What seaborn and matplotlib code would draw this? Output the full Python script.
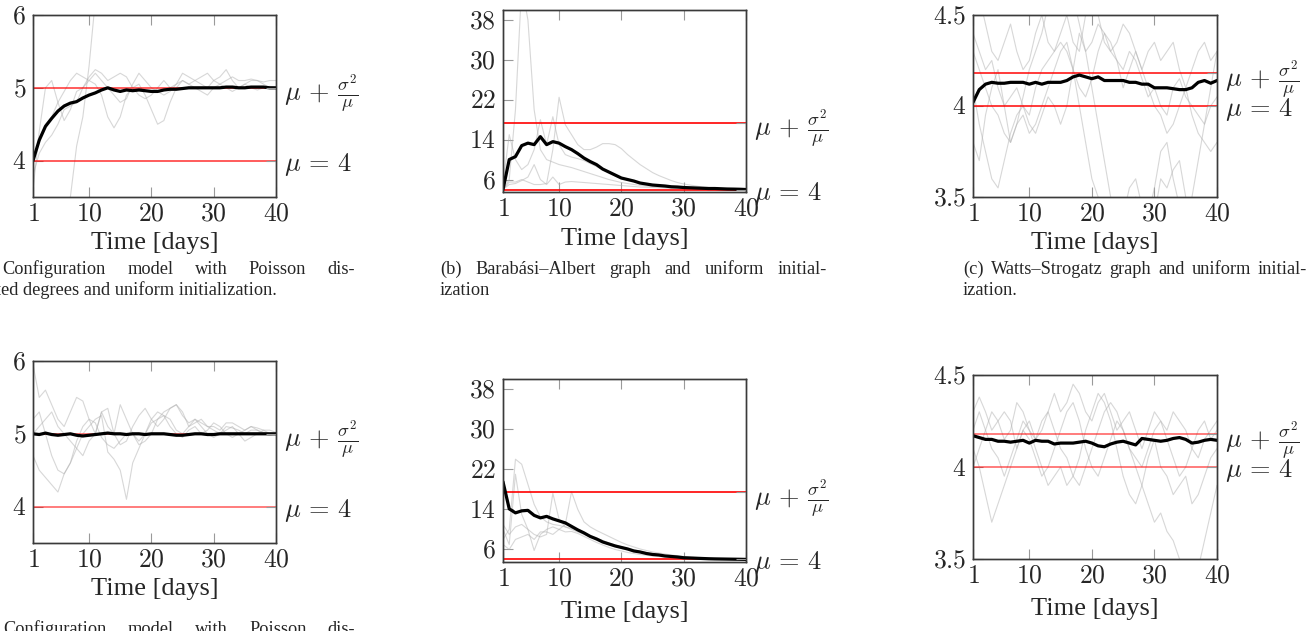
import numpy as np
import pandas as pd
import matplotlib
matplotlib.use("Agg")
import matplotlib.pyplot as plt
import matplotlib.transforms as mtransforms
import seaborn as sns

# ---------------- data ----------------
days = list(range(1, 41))
x_ticks = [1, 10, 20, 30, 40]

# (a) configuration model, uniform init
a1_mean = [4.00, 4.28, 4.47, 4.58, 4.68, 4.75, 4.79, 4.81, 4.86, 4.90, 4.93, 4.97, 5.00, 4.97, 4.95, 4.97, 4.96, 4.97, 4.96, 4.95,
           4.95, 4.97, 4.98, 4.98, 4.99, 5.00, 5.00, 5.00, 5.00, 5.00, 5.00, 5.01, 5.01, 5.00, 5.00, 5.01, 5.01, 5.01, 5.00, 5.00]
a1_runs = [
    [3.0, 3.1, 3.2, 3.3, 3.35, 3.4, 3.5, 4.2, 4.6, 5.3, 6.2, 6.8, 7.0, 7.0, 7.0, 7.0, 7.0, 7.0, 7.0, 7.0,
     7.0, 7.0, 7.0, 7.0, 7.0, 7.0, 7.0, 7.0, 7.0, 7.0, 7.0, 7.0, 7.0, 7.0, 7.0, 7.0, 7.0, 7.0, 7.0, 7.0],
    [3.6, 4.4, 5.0, 5.1, 4.8, 4.55, 4.7, 4.95, 5.0, 5.1, 5.05, 4.9, 4.6, 4.45, 4.6, 4.9, 5.0, 5.05, 4.9, 4.7,
     4.5, 4.55, 4.8, 5.0, 5.1, 5.05, 5.0, 4.95, 4.9, 5.0, 5.05, 5.0, 4.95, 5.0, 5.05, 5.0, 4.97, 5.0, 5.02, 5.0],
    [4.0, 4.3, 4.5, 4.6, 4.8, 4.95, 5.1, 5.2, 5.15, 5.1, 5.2, 5.1, 5.0, 4.9, 4.8, 4.85, 5.05, 5.2, 5.1, 5.0,
     4.95, 4.9, 4.95, 5.05, 5.1, 5.05, 5.1, 5.15, 5.2, 5.1, 5.05, 5.1, 5.15, 5.1, 5.1, 5.12, 5.1, 5.08, 5.1, 5.1],
    [3.8, 4.1, 4.25, 4.35, 4.5, 4.7, 4.75, 4.8, 5.0, 5.15, 5.25, 5.2, 5.1, 5.15, 5.2, 5.15, 5.0, 4.9, 4.85, 4.9,
     5.0, 5.1, 5.0, 5.05, 5.2, 5.15, 5.1, 5.05, 5.0, 5.1, 5.15, 5.25, 5.1, 5.0, 5.05, 5.1, 5.1, 5.05, 5.0, 5.0],
]

# (b) Barabasi-Albert, uniform init
b1_mean = [4.0, 10.0, 10.6, 12.8, 13.3, 13.0, 14.6, 13.0, 13.6, 13.3, 12.6, 12.0, 11.2, 10.3, 9.6, 9.0, 8.1, 7.5, 6.9, 6.3,
           6.0, 5.7, 5.3, 5.1, 4.9, 4.8, 4.7, 4.55, 4.5, 4.4, 4.35, 4.3, 4.25, 4.2, 4.2, 4.15, 4.1, 4.08, 4.05, 4.0]
b1_runs = [
    [4.0, 6.0, 20.0, 45.0, 38.0, 20.0, 12.0, 10.0, 9.5, 9.0, 8.7, 8.4, 8.0, 7.6, 7.2, 6.8, 6.4, 6.0, 5.7, 5.4,
     5.2, 5.0, 4.85, 4.7, 4.6, 4.5, 4.4, 4.35, 4.3, 4.25, 4.2, 4.15, 4.12, 4.1, 4.08, 4.06, 4.04, 4.03, 4.02, 4.0],
    [5.0, 15.0, 10.0, 8.0, 9.0, 12.0, 18.0, 13.0, 18.6, 13.0, 11.0, 10.5, 10.2, 9.8, 9.2, 8.6, 8.0, 7.4, 6.8, 6.3,
     5.9, 5.6, 5.3, 5.1, 4.9, 4.8, 4.6, 4.5, 4.4, 4.35, 4.3, 4.25, 4.2, 4.15, 4.12, 4.1, 4.07, 4.05, 4.03, 4.0],
    [4.0, 5.5, 5.5, 6.0, 5.5, 5.0, 5.0, 5.2, 12.0, 22.5, 17.0, 15.0, 13.0, 12.0, 12.0, 12.5, 13.2, 13.2, 13.0, 12.2,
     11.0, 10.0, 9.0, 8.2, 7.4, 6.8, 6.3, 5.8, 5.4, 5.1, 4.9, 4.7, 4.5, 4.4, 4.3, 4.2, 4.15, 4.1, 4.05, 4.0],
    [4.0, 5.0, 5.2, 5.8, 6.5, 9.0, 6.0, 5.0, 6.5, 5.0, 5.5, 5.6, 5.5, 5.4, 5.3, 5.2, 5.1, 5.0, 4.9, 4.8,
     4.7, 4.6, 4.5, 4.45, 4.4, 4.35, 4.3, 4.25, 4.2, 4.18, 4.15, 4.12, 4.1, 4.08, 4.06, 4.05, 4.04, 4.03, 4.02, 4.0],
]

# (c) Watts-Strogatz, uniform init
c1_mean = [4.02, 4.09, 4.12, 4.13, 4.125, 4.125, 4.13, 4.13, 4.13, 4.12, 4.13, 4.12, 4.13, 4.13, 4.13, 4.14, 4.16, 4.17, 4.16, 4.15,
           4.16, 4.14, 4.14, 4.14, 4.14, 4.13, 4.13, 4.12, 4.12, 4.10, 4.10, 4.10, 4.095, 4.09, 4.09, 4.10, 4.13, 4.14, 4.125, 4.14]
c1_runs = [
    [4.5, 4.6, 4.45, 4.3, 4.25, 4.35, 4.45, 4.3, 4.2, 4.25, 4.4, 4.5, 4.35, 4.3, 4.4, 4.5, 4.6, 4.45, 4.3, 4.35,
     4.45, 4.4, 4.3, 4.35, 4.45, 4.4, 4.3, 4.2, 4.3, 4.35, 4.25, 4.3, 4.35, 4.2, 4.1, 4.2, 4.3, 4.35, 4.25, 4.3],
    [4.1, 3.9, 3.75, 3.6, 3.55, 3.7, 3.85, 3.95, 4.0, 3.9, 3.85, 3.95, 4.05, 4.0, 3.9, 4.0, 4.2, 4.4, 4.3, 4.1,
     3.9, 3.7, 3.5, 3.35, 3.4, 3.55, 3.6, 3.45, 3.3, 3.4, 3.6, 3.55, 3.65, 3.7, 3.5, 3.4, 3.3, 3.2, 3.3, 3.4],
    [4.3, 4.2, 4.1, 4.0, 3.95, 3.85, 3.8, 3.9, 3.95, 3.85, 3.9, 4.0, 4.1, 4.2, 4.3, 4.35, 4.2, 4.1, 4.05, 4.15,
     4.3, 4.4, 4.35, 4.25, 4.2, 4.3, 4.25, 4.15, 4.05, 4.1, 4.0, 3.95, 4.1, 4.15, 4.05, 4.0, 3.95, 3.9, 4.0, 4.05],
    [3.8, 3.7, 3.95, 4.1, 4.2, 4.0, 3.8, 3.9, 4.05, 4.2, 4.3, 4.4, 4.55, 4.7, 4.6, 4.5, 4.35, 4.3, 4.5, 4.65,
     4.5, 4.35, 4.3, 4.25, 4.1, 4.2, 4.3, 4.2, 4.1, 4.0, 3.95, 3.85, 3.9, 4.0, 4.1, 3.95, 3.85, 3.8, 3.75, 3.8],
    [4.4, 4.3, 4.2, 4.25, 4.1, 4.0, 4.05, 4.1, 4.0, 3.95, 4.1, 4.2, 4.25, 4.3, 4.35, 4.3, 4.2, 4.0, 3.8, 3.6,
     3.5, 3.4, 3.3, 3.3, 3.35, 3.4, 3.5, 3.45, 3.4, 3.55, 3.75, 3.8, 3.6, 3.45, 3.35, 3.5, 3.7, 3.9, 4.1, 4.3],
]

# (d) configuration model, second initialization
a2_mean = [5.00, 4.99, 5.01, 4.99, 4.98, 4.99, 5.00, 4.98, 4.97, 4.98, 4.99, 5.00, 5.01, 5.00, 5.00, 4.99, 5.00, 5.00, 4.99, 5.00,
           5.00, 5.00, 4.99, 4.98, 4.98, 4.99, 5.00, 5.00, 4.99, 4.99, 5.00, 5.00, 5.00, 5.00, 5.00, 5.00, 5.00, 5.00, 5.00, 5.00]
a2_runs = [
    [5.95, 5.5, 5.6, 5.4, 5.2, 5.1, 5.3, 5.5, 5.45, 5.2, 5.0, 5.3, 5.35, 5.0, 4.85, 4.9, 5.1, 5.25, 5.35, 5.2,
     5.1, 5.2, 5.35, 5.4, 5.3, 5.1, 5.15, 5.2, 5.1, 5.05, 5.0, 5.1, 5.08, 5.05, 5.0, 5.05, 5.05, 5.02, 5.0, 5.0],
    [4.7, 4.5, 4.4, 4.3, 4.2, 4.45, 4.6, 4.9, 5.1, 5.2, 5.15, 4.95, 4.85, 4.8, 4.9, 5.0, 5.0, 4.9, 5.0, 5.15,
     5.2, 5.25, 5.2, 5.05, 5.0, 5.1, 5.2, 5.1, 5.0, 4.95, 5.0, 5.05, 5.1, 5.0, 4.9, 4.95, 5.0, 5.05, 5.0, 5.0],
    [5.2, 5.3, 5.0, 4.7, 4.5, 4.45, 4.6, 4.8, 5.0, 5.1, 5.2, 5.25, 4.75, 4.65, 4.5, 4.1, 4.6, 4.8, 5.0, 5.2,
     5.3, 5.25, 5.1, 5.0, 4.95, 5.05, 5.1, 5.0, 5.05, 5.15, 5.1, 5.0, 4.95, 5.0, 5.05, 5.1, 5.05, 5.0, 4.98, 5.0],
    [5.0, 5.1, 5.2, 5.3, 5.1, 5.0, 4.9, 4.8, 4.7, 4.9, 5.0, 5.3, 5.1, 5.0, 5.4, 5.2, 5.0, 4.85, 4.9, 5.0,
     5.2, 5.3, 5.35, 5.4, 5.25, 5.15, 5.2, 5.15, 5.1, 5.1, 5.05, 5.15, 5.15, 5.1, 5.05, 5.1, 5.08, 5.05, 5.05, 5.02],
]

# (e) Barabasi-Albert, second initialization
b2_mean = [19.5, 14.1, 13.3, 13.7, 13.8, 12.8, 12.3, 12.6, 12.1, 11.7, 11.3, 10.6, 9.9, 9.3, 8.6, 8.1, 7.5, 7.1, 6.7, 6.4,
           6.1, 5.7, 5.5, 5.2, 5.0, 4.9, 4.7, 4.6, 4.5, 4.35, 4.3, 4.25, 4.2, 4.15, 4.12, 4.1, 4.08, 4.06, 4.04, 4.02]
b2_runs = [
    [8.0, 10.0, 24.0, 23.0, 19.0, 15.0, 12.5, 11.5, 11.0, 10.8, 10.5, 10.2, 9.8, 9.3, 8.8, 8.3, 7.8, 7.3, 6.9, 6.5,
     6.2, 5.9, 5.6, 5.4, 5.2, 5.0, 4.85, 4.7, 4.6, 4.5, 4.4, 4.3, 4.25, 4.2, 4.15, 4.1, 4.08, 4.05, 4.03, 4.0],
    [10.0, 7.0, 21.0, 13.0, 10.0, 9.0, 8.5, 9.0, 17.2, 12.0, 10.5, 10.0, 9.5, 9.0, 8.5, 8.0, 7.5, 7.0, 6.6, 6.2,
     5.9, 5.6, 5.4, 5.2, 5.0, 4.9, 4.75, 4.6, 4.5, 4.4, 4.35, 4.3, 4.25, 4.2, 4.15, 4.1, 4.08, 4.05, 4.03, 4.0],
    [7.0, 6.0, 8.0, 8.5, 9.0, 8.0, 9.5, 9.5, 9.0, 10.0, 11.0, 17.5, 14.0, 11.5, 10.5, 9.8, 9.2, 8.6, 8.0, 7.4,
     6.9, 6.5, 6.1, 5.8, 5.5, 5.3, 5.1, 4.9, 4.75, 4.6, 4.5, 4.4, 4.3, 4.25, 4.2, 4.15, 4.1, 4.07, 4.04, 4.02],
    [11.0, 9.0, 10.5, 11.0, 10.0, 5.8, 9.0, 10.0, 10.5, 10.0, 9.5, 9.6, 9.2, 8.6, 8.0, 7.4, 6.9, 6.4, 6.0, 5.7,
     5.4, 5.2, 5.0, 4.85, 4.7, 4.6, 4.5, 4.4, 4.35, 4.3, 4.25, 4.2, 4.15, 4.1, 4.08, 4.06, 4.04, 4.03, 4.02, 4.0],
]

# (f) Watts-Strogatz, second initialization
c2_mean = [4.17, 4.16, 4.15, 4.15, 4.14, 4.14, 4.135, 4.14, 4.145, 4.13, 4.145, 4.14, 4.14, 4.125, 4.13, 4.13, 4.13, 4.135, 4.14, 4.13,
           4.115, 4.11, 4.125, 4.135, 4.14, 4.13, 4.12, 4.155, 4.15, 4.145, 4.14, 4.145, 4.155, 4.16, 4.15, 4.13, 4.135, 4.145, 4.15, 4.145]
c2_runs = [
    [4.3, 4.38, 4.3, 4.2, 4.25, 4.3, 4.25, 4.1, 4.2, 4.25, 4.15, 4.2, 4.3, 4.4, 4.3, 4.35, 4.45, 4.4, 4.3, 4.25,
     4.35, 4.4, 4.3, 4.2, 4.25, 4.3, 4.2, 4.1, 4.2, 4.3, 4.25, 4.2, 4.3, 4.25, 4.2, 4.1, 4.05, 4.15, 4.2, 4.25],
    [4.1, 4.0, 3.85, 3.7, 3.8, 3.9, 4.0, 4.1, 4.2, 4.15, 4.05, 3.95, 4.0, 4.1, 4.2, 4.3, 4.35, 4.25, 4.1, 4.0,
     3.95, 4.05, 4.15, 4.25, 4.2, 4.1, 4.0, 3.9, 3.8, 3.7, 3.75, 3.65, 3.6, 3.5, 3.45, 3.4, 3.45, 3.6, 3.75, 3.9],
    [4.2, 4.3, 4.2, 4.1, 4.05, 3.95, 4.05, 4.15, 4.25, 4.2, 4.1, 4.0, 3.9, 3.95, 4.0, 3.9, 3.95, 4.05, 4.2, 4.3,
     4.4, 4.35, 4.25, 4.1, 3.95, 3.85, 3.8, 3.9, 4.05, 4.15, 4.0, 3.95, 3.85, 3.9, 3.95, 3.8, 3.85, 3.95, 4.05, 4.1],
    [4.0, 4.1, 4.2, 4.3, 4.25, 4.15, 4.2, 4.35, 4.3, 4.2, 4.15, 4.25, 4.3, 4.2, 4.1, 4.05, 3.95, 3.9, 4.0, 4.1,
     4.2, 4.3, 4.35, 4.3, 4.2, 4.1, 4.05, 4.0, 4.1, 4.2, 4.25, 4.15, 4.05, 3.95, 4.0, 4.1, 4.2, 4.25, 4.15, 4.2],
]

mu = 4
mu_plus = {"a": 5.0, "b": 17.4, "c": 4.18}

yticks_a = [4, 5, 6]
yticks_b = [6, 14, 22, 30, 38]
yticks_c = [3.5, 4, 4.5]

# ---------------- style ----------------
sns.set_theme(style="white")
plt.rcParams["font.family"] = ["Liberation Serif", "DejaVu Serif"]
plt.rcParams["mathtext.fontset"] = "cm"

W, H = 1315, 631
fig = plt.figure(figsize=(W / 100, H / 100), dpi=100)

def box(l, t, r, b):
    return [l / W, 1 - b / H, (r - l) / W, (b - t) / H]

TICK_GRAY = "#9a9a9a"
SPINE = "#3a3a3a"

panels = [
    dict(pos=box(33, 15, 276, 197), mean=a1_mean, runs=a1_runs, ylim=(3.5, 6), yt=yticks_a, mp=mu_plus["a"], red_alpha=0.75, lp=4),
    dict(pos=box(503, 10, 746, 192), mean=b1_mean, runs=b1_runs, ylim=(3.5, 40), yt=yticks_b, mp=mu_plus["b"], red_alpha=1.0, lp=5),
    dict(pos=box(973, 15, 1217, 197), mean=c1_mean, runs=c1_runs, ylim=(3.5, 4.5), yt=yticks_c, mp=mu_plus["c"], red_alpha=0.9, lp=4),
    dict(pos=box(33, 361, 276, 543), mean=a2_mean, runs=a2_runs, ylim=(3.5, 6), yt=yticks_a, mp=mu_plus["a"], red_alpha=0.6, lp=4),
    dict(pos=box(503, 379, 746, 562), mean=b2_mean, runs=b2_runs, ylim=(3.5, 40), yt=yticks_b, mp=mu_plus["b"], red_alpha=1.0, lp=7),
    dict(pos=box(973, 375, 1217, 559), mean=c2_mean, runs=c2_runs, ylim=(3.5, 4.5), yt=yticks_c, mp=mu_plus["c"], red_alpha=0.6, lp=7),
]

def fmt(v):
    return "$%s$" % ("%g" % v)

for p in panels:
    ax = fig.add_axes(p["pos"])
    for run in p["runs"]:
        sns.lineplot(x=days, y=run, ax=ax, color="#b0b0b0", alpha=0.5, lw=0.8, estimator=None)
    ax.axhline(mu, color="red", lw=1.2, alpha=p["red_alpha"], zorder=3)
    ax.axhline(p["mp"], color="red", lw=1.2, alpha=p["red_alpha"], zorder=3)
    sns.lineplot(x=days, y=p["mean"], ax=ax, color="black", lw=2.3, estimator=None, zorder=4)
    ax.set_xlim(1, 40)
    ax.set_ylim(*p["ylim"])
    ax.set_xticks(x_ticks)
    ax.set_xticklabels([fmt(v) for v in x_ticks], fontsize=18.5)
    ax.set_yticks(p["yt"])
    ax.set_yticklabels([fmt(v) for v in p["yt"]], fontsize=18.5)
    ax.tick_params(axis="both", direction="in", length=7.5, width=0.8, color=TICK_GRAY,
                   top=True, right=True, bottom=True, left=True, pad=5)
    ax.set_xlabel("Time [days]", fontsize=19, labelpad=p["lp"])
    ax.set_ylabel("")
    for s in ax.spines.values():
        s.set_color(SPINE)
        s.set_linewidth(1.0)
    ax2 = ax.twinx()
    ax2.set_ylim(*p["ylim"])
    ax2.set_yticks([mu, p["mp"]])
    ax2.set_yticklabels([r"$\mu\,=\,4$", r"$\mu\,+\,\frac{\sigma^2}{\mu}$"], fontsize=19)
    ax2.tick_params(axis="y", direction="in", length=7.5, width=0.8, color=TICK_GRAY, pad=6)
    for s in ax2.spines.values():
        s.set_color(SPINE)
        s.set_linewidth(1.0)
    ax2.grid(False)
    ax.grid(False)

# ---------------- captions ----------------
ident = mtransforms.IdentityTransform()
renderer = fig.canvas.get_renderer()
CAP = 13.2

def width_of(s):
    t = fig.text(0, 0, s, fontsize=CAP, transform=ident)
    w = t.get_window_extent(renderer).width
    t.remove()
    return w

def justified(line, x0, x1, y):
    words = line.split(" ")
    ts = [fig.text(0, 0, w, fontsize=CAP, transform=ident, va="baseline") for w in words]
    widths = [t.get_window_extent(renderer).width for t in ts]
    gap = (x1 - x0 - sum(widths)) / (len(words) - 1)
    x = x0
    for t, w in zip(ts, widths):
        t.set_position((x, H - y))
        x += w + gap

def plain(line, x0, y):
    fig.text(x0, H - y, line, fontsize=CAP, transform=ident, va="baseline")

left_a = 1 - width_of("tribut")
justified("(a) Configuration model with Poisson dis-", left_a, 355, 274)
plain("tributed degrees and uniform initialization.", left_a, 295)
justified("(b) Barabási–Albert graph and uniform initial-", 440, 827, 274)
plain("ization", 440, 295)
justified("(c) Watts–Strogatz graph and uniform initial-", 963, 1307, 274)
plain("ization.", 963, 295)
justified("(d) Configuration model with Poisson dis-", left_a, 355, 634)

fig.savefig("out.png", dpi=100)
